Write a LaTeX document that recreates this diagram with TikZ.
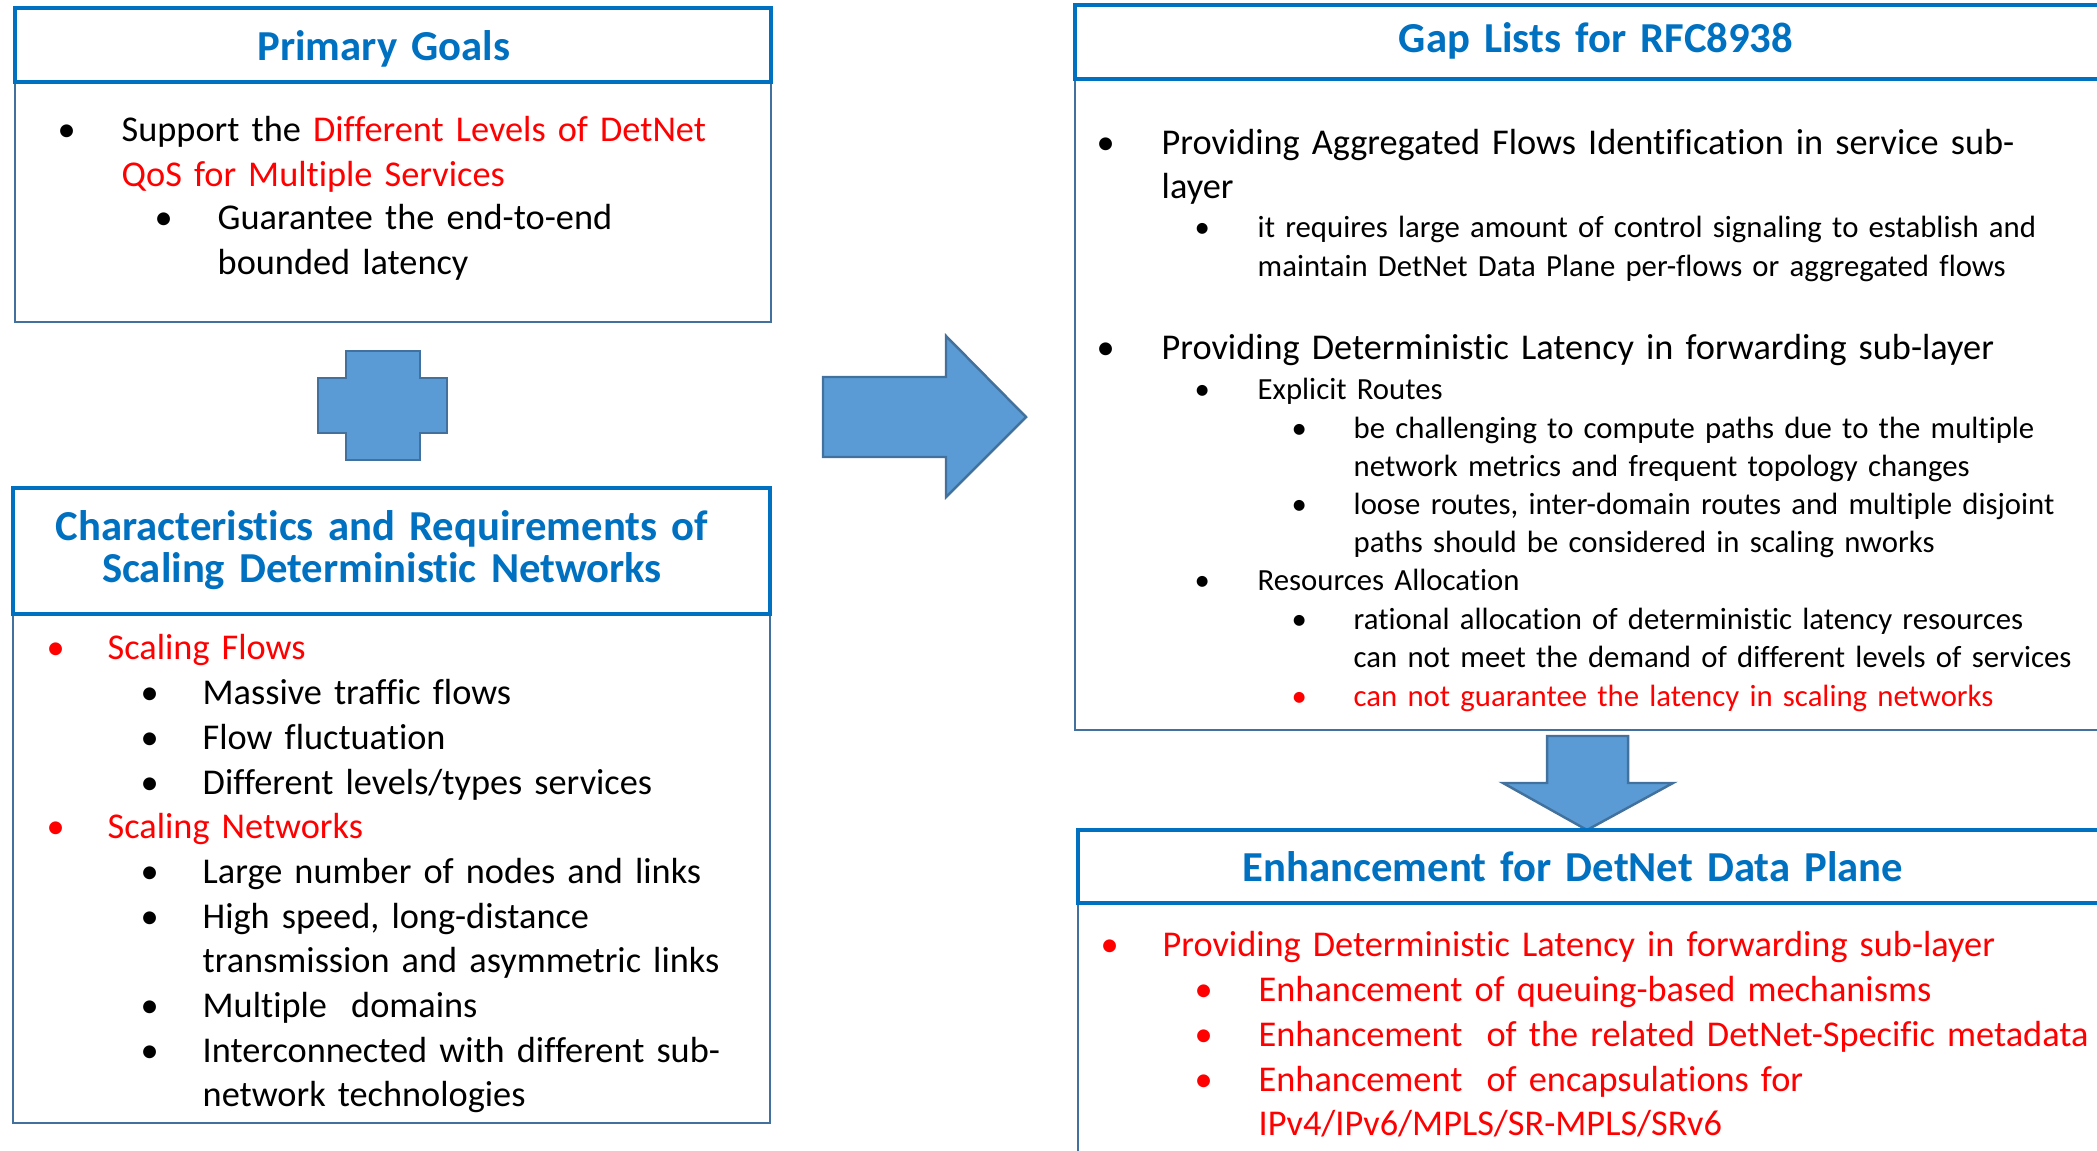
\documentclass[tikz,border=0pt]{standalone}
\usepackage{fontspec}
\setmainfont{Carlito}[Ligatures=NoCommon]

\definecolor{titleblue}{RGB}{0,112,192}
\definecolor{detred}{RGB}{255,0,0}
\definecolor{boxline}{RGB}{65,113,156}
\definecolor{arrowfill}{RGB}{91,155,213}

\newcommand\titlefont{\fontsize{12.15}{12.2}\selectfont\bfseries}
\newcommand\bodyfont{\fontsize{10.33}{12.6}\selectfont}
\newcommand\smallfont{\fontsize{8.75}{10.9}\selectfont}

\tikzset{
  titlebox/.style={draw=titleblue, line width=1.15pt},
  bodybox/.style={draw=boxline, line width=0.6pt},
  blockarrow/.style={fill=arrowfill, draw=boxline, line width=0.7pt},
  heading/.style={font=\titlefont, text=titleblue, anchor=base, inner sep=0pt,
    text width=75mm, align=center},
  bul/.style={anchor=base west, inner sep=0pt},
  txt/.style={anchor=base west, inner sep=0pt, text width=95mm, align=left}
}

% bullet point: name, bullet x, text x, baseline y, colour, text
\newcommand\bitem[6]{%
  \node[bul, text=#5] (#1-b) at (#2,#4) {\textbullet};
  \node[txt, text=#5] (#1) at (#3,#4) {#6};
}

\begin{document}
\begin{tikzpicture}[x=0.1mm, y=-0.1mm]
    \clip (0,0) rectangle (2097,1151);

    % Primary goals
    \draw[bodybox] (15,82) rectangle (771,322);
    \draw[titlebox] (15,8) rectangle (771,82);
    \node[heading] (pg) at (384,61) {Primary Goals};
    \begin{scope}[font=\bodyfont]
        \bitem{pg1}{57}{121}{142}{black}{Support the \textcolor{detred}{Different Levels of DetNet}\\
            \textcolor{detred}{QoS for Multiple Services}}
        \bitem{pg2}{154}{217}{230}{black}{Guarantee the end-to-end\\bounded latency}
    \end{scope}

    % Plus sign
    \draw[blockarrow] (346,351) -- (420,351) -- (420,378) -- (447,378) -- (447,433)
        -- (420,433) -- (420,460) -- (346,460) -- (346,433) -- (318,433)
        -- (318,378) -- (346,378) -- cycle;

    % Characteristics and requirements
    \draw[bodybox] (13,614) rectangle (770,1123);
    \draw[titlebox] (13,488) rectangle (770,614);
    \node[heading] (cr) at (382,540) {Characteristics and Requirements of\\Scaling Deterministic Networks};
    \begin{scope}[font=\bodyfont]
        \bitem{cr1}{46}{107}{659}{detred}{Scaling Flows}
        \bitem{cr11}{140}{202}{704}{black}{Massive traffic flows}
        \bitem{cr12}{140}{202}{749}{black}{Flow fluctuation}
        \bitem{cr13}{140}{202}{794}{black}{Different levels/types services}
        \bitem{cr2}{46}{107}{838}{detred}{Scaling Networks}
        \bitem{cr21}{140}{202}{883}{black}{Large number of nodes and links}
        \bitem{cr22}{140}{202}{928}{black}{High speed, long-distance\\transmission and asymmetric links}
        \bitem{cr23}{140}{202}{1017}{black}{Multiple~ domains}
        \bitem{cr24}{140}{202}{1062}{black}{Interconnected with different sub-\\network technologies}
    \end{scope}

    % Arrow to the gap list
    \draw[blockarrow] (823,377) -- (946,377) -- (946,336) -- (1026,417)
        -- (946,497) -- (946,457) -- (823,457) -- cycle;

    % Gap lists
    \draw[bodybox] (1075,79) rectangle (2120,730);
    \draw[titlebox] (1075,5) rectangle (2120,79);
    \node[heading] (gl) at (1596,53) {Gap Lists for RFC8938};
    \begin{scope}[font=\bodyfont]
        \bitem{gl1}{1096}{1161}{154}{black}{Providing Aggregated Flows Identification in service sub-\\layer}
        \bitem{gl2}{1096}{1161}{359}{black}{Providing Deterministic Latency in forwarding sub-layer}
    \end{scope}
    \begin{scope}[font=\smallfont]
        \bitem{gl11}{1194}{1257}{238}{black}{it requires large amount of control signaling to establish and\\
            maintain DetNet Data Plane per-flows or aggregated flows}
        \bitem{gl21}{1194}{1257}{399}{black}{Explicit Routes}
        \bitem{gl211}{1291}{1353}{438}{black}{be challenging to compute paths due to the multiple\\
            network metrics and frequent topology changes}
        \bitem{gl212}{1291}{1353}{514}{black}{loose routes, inter-domain routes and multiple disjoint\\
            paths should be considered in scaling nworks}
        \bitem{gl22}{1194}{1257}{590}{black}{Resources Allocation}
        \bitem{gl221}{1291}{1353}{629}{black}{rational allocation of deterministic latency resources\\
            can not meet the demand of different levels of services}
        \bitem{gl222}{1291}{1353}{706}{detred}{can not guarantee the latency in scaling networks}
    \end{scope}

    % Arrow down to the enhancements
    \draw[blockarrow] (1547,736) -- (1628,736) -- (1628,783) -- (1673,783)
        -- (1587,830) -- (1503,783) -- (1547,783) -- cycle;

    % Enhancement for the data plane
    \draw[bodybox] (1078,903) rectangle (2120,1160);
    \draw[titlebox] (1078,830) rectangle (2120,903);
    \node[heading] (en) at (1573,881) {Enhancement for DetNet Data Plane};
    \begin{scope}[font=\bodyfont]
        \bitem{en1}{1100}{1162}{956}{detred}{Providing Deterministic Latency in forwarding sub-layer}
        \bitem{en11}{1194}{1258}{1001}{detred}{Enhancement of queuing-based mechanisms}
        \bitem{en12}{1194}{1258}{1046}{detred}{Enhancement~ of the related DetNet-Specific metadata}
        \bitem{en13}{1194}{1258}{1091}{detred}{Enhancement~ of encapsulations for\\IPv4/IPv6/MPLS/SR-MPLS/SRv6}
    \end{scope}
\end{tikzpicture}
\end{document}
